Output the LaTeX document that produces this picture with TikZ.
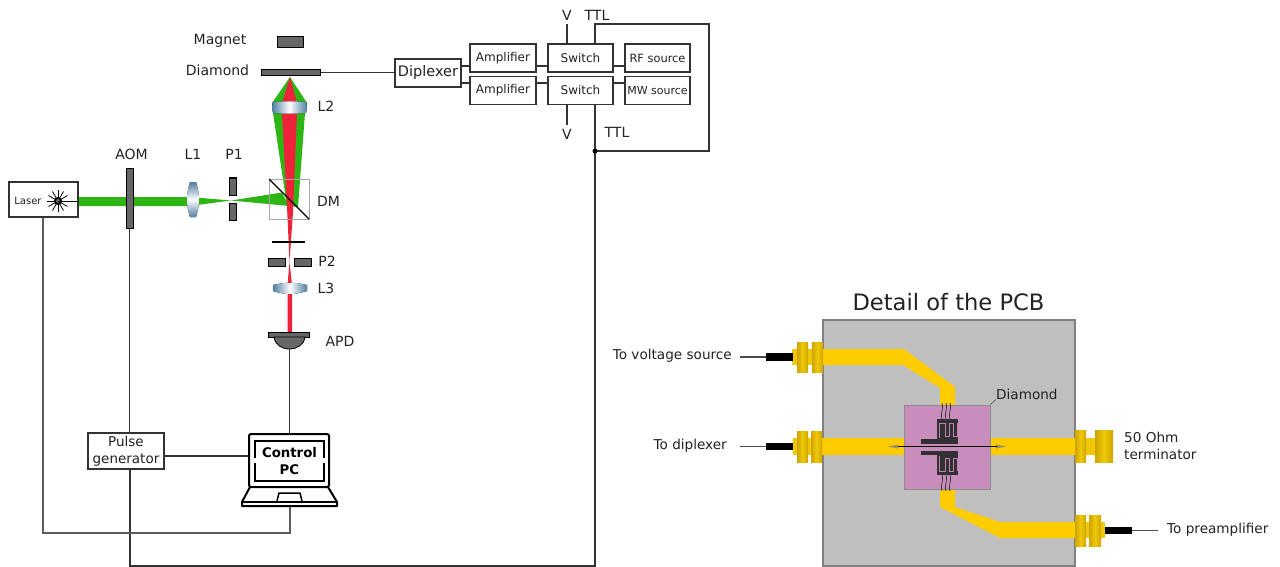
\documentclass[tikz,border=0pt]{standalone}
\usepackage{fontspec}
\setmainfont{DejaVu Sans}
\definecolor{grn}{HTML}{2DB514}
\definecolor{rd}{HTML}{EE2238}
\definecolor{wire}{HTML}{333333}
\definecolor{part}{HTML}{666666}
\definecolor{txt}{HTML}{222222}
\definecolor{trace}{HTML}{FFCC00}
\definecolor{brassd}{HTML}{CFA400}
\definecolor{brassl}{HTML}{F0C808}
\definecolor{lensb}{HTML}{4F7FA6}
\definecolor{dark}{HTML}{333033}
\definecolor{pinkd}{HTML}{C88DBB}
\definecolor{pinkw}{HTML}{BE82AF}
\tikzset{
  fs/.style={font=\fontsize{#1}{17}\selectfont},
  lbl/.style={fs=14,text=txt,inner sep=0pt},
  lab/.style={fs=13.6,text=txt,inner sep=0pt},
  box/.style={draw=wire,line width=1.2pt,fill=white,inner sep=0pt,text=txt,fs=12},
  conn/.style={draw=wire,line width=1.35pt},
  opt/.style={draw=black,line width=1pt,fill=part},
  brass/.style={left color=brassd,right color=brassd,middle color=brassl},
  lensv/.style={top color=lensb,bottom color=lensb,middle color=white},
  lensh/.style={left color=lensb,right color=lensb,middle color=white},
}
\begin{document}
\begin{tikzpicture}[x=1pt,y=-1pt]
\useasboundingbox (0,0) rectangle (1280,567);
% ---- beams
\fill[grn] (78,197) -- (190,197) -- (231,200.5) -- (282,192.5) -- (289,206) -- (231,200.5) -- (190,206) -- (78,206) -- cycle;
\fill[grn] (290,77) -- (272,103) -- (273,113) -- (287,206) -- (298,207) -- (305,113) -- (307,103) -- cycle;
\fill[rd] (290,77) -- (282,103) -- (282,113) -- (287,206) -- (289.5,262) -- (293,212) -- (297,113) -- (297,103) -- cycle;
\fill[rd] (289.5,262) -- (287.5,285) -- (287.5,294) -- (287.5,333) -- (292,333) -- (292,285) -- cycle;
% ---- optics
\node[opt,minimum width=26pt,minimum height=11pt,inner sep=0pt] (magnet) at (290,42.5) {};
\node[opt,minimum width=59pt,minimum height=6pt,inner sep=0pt] (dia) at (290.5,72.5) {};
\fill[lensh] (273,102) to[bend left=4] (306,102) -- (307,107.5) -- (306,113) to[bend left=4] (273,113) -- (272,107.5) -- cycle;
\draw[draw=gray!70,line width=0.9pt] (269,179) rectangle (309,219);
\draw[black,line width=1.3pt] (269,179) -- (309,219);
\fill[lensv] (190,182) -- (196,182) .. controls (200,195) and (200,205) .. (196,217) -- (190,217) .. controls (186,205) and (186,195) .. (190,182) -- cycle;
\fill[lensh] (273,285) .. controls (285,282) and (295,282) .. (307,285) -- (307,291) .. controls (295,295) and (285,295) .. (273,291) -- cycle;
\node[opt,minimum width=7pt,minimum height=59pt,inner sep=0pt] (aom) at (129.5,198.5) {};
\draw[opt] (229,178) rectangle (236,195);
\draw[opt] (229,203) rectangle (236,220);
\draw[black,line width=1.4pt] (272,242) -- (305,242);
\draw[opt] (268,258) rectangle (285,266);
\draw[opt] (294,258) rectangle (311,266);
\node[opt,minimum width=41pt,minimum height=5pt,inner sep=0pt] (apdp) at (288.5,334.5) {};
\path[draw=black,line width=0.8pt,fill=part] (274,337) .. controls (275,345) and (282,349) .. (289.5,349) .. controls (297,349) and (304,345) .. (305,337) -- cycle;
\coordinate (apd) at (289.5,349);
% ---- laser
\node[box,minimum width=69pt,minimum height=35pt] (laser) at (43.5,199.5) {};
\node[fs=10,text=txt,inner sep=0pt] (lasertxt) at (28,201) {Laser};
\foreach \a in {0,30,...,330}{\draw[black,line width=0.8pt] (58,201) -- ++(\a:11);}
\fill[black] (58,201) circle (4pt);
\fill[part] (58,201) circle (2pt);
\draw[black,line width=0.8pt] (58,201) -- (laser.east |- 58,201);
% ---- boxes
\node[box,fs=14.5,minimum width=66pt,minimum height=28pt] (dip) at (428,73) {Diplexer};
\node[box,minimum width=66pt,minimum height=28pt] (amp1) at (503,58) {\raisebox{-1pt}{Amplifier}};
\node[box,minimum width=66pt,minimum height=28pt] (amp2) at (503,90.5) {\raisebox{-1pt}{Amplifier}};
\node[box,minimum width=65pt,minimum height=28pt] (sw1) at (580.5,58) {Switch};
\node[box,minimum width=65pt,minimum height=28pt] (sw2) at (580.5,90.5) {Switch};
\node[box,fs=11.4,minimum width=65pt,minimum height=28pt] (rf) at (657.5,58) {RF source};
\node[box,fs=11,minimum width=65pt,minimum height=28pt] (mw) at (657.5,90.5) {\raisebox{-1pt}{MW source}};
\node[box,fs=13.5,minimum width=76pt,minimum height=36pt,align=center] (pg) at (126,451) {\raisebox{-1pt}{Pulse}\\\raisebox{-1pt}{generator}};
% ---- laptop
\node[inner sep=0pt,minimum width=80pt,minimum height=53pt,draw=black,line width=2pt,rounded corners=1.5pt] (pc) at (289,460.5) {};
\draw[black,line width=1.8pt] (255,458) -- (255,441) -- (324,441) -- (324,458) (255,463) -- (255,481) -- (324,481) -- (324,463);
\node[font=\fontsize{13.3}{17}\selectfont\bfseries,text=black,align=center,inner sep=0pt] (pctxt) at (289.5,461.5) {Control\\PC};
\draw[black,line width=2pt,line join=round,fill=white] (250,487) -- (328,487) -- (337,502) -- (337,506) -- (242,506) -- (242,502) -- cycle;
\draw[black,line width=1.5pt] (242,502) -- (337,502);
\draw[black,line width=1.5pt] (277,501) -- (279,493) -- (300,493) -- (302,501);
\coordinate (pcb) at (290,507);
% ---- wiring
\draw[conn] (dia.east) -- (dip.west |- dia.east);
\draw[conn] (dip.east |- 0,66) -- (amp1.west |- 0,66);
\draw[conn] (dip.east |- 0,83) -- (amp2.west |- 0,83);
\draw[conn] (amp1.east |- 0,66) -- (sw1.west |- 0,66);
\draw[conn] (amp2.east |- 0,83) -- (sw2.west |- 0,83);
\draw[conn] (sw1.east |- 0,66) -- (rf.west |- 0,66);
\draw[conn] (sw2.east |- 0,83) -- (mw.west |- 0,83);
\coordinate (vt) at (567,24);
\coordinate (vb) at (567,125);
\draw[conn] (vt) -- (vt |- sw1.north);
\draw[conn] (vb) -- (vb |- sw2.south);
\coordinate (junc) at (595,151);
\coordinate (pgr) at (130,566);
\draw[conn] (junc |- sw1.north) -- (595,24) -- (709,24) -- (709,151) -- (junc);
\draw[conn] (pg.south -| pgr) -- (pgr) -- (595,566) -- (junc) -- (sw2.south -| junc);
\fill[black] (junc) circle (2.5pt);
\draw[conn] (aom.south) -- (aom.south |- pg.north);
\draw[conn] (pg.east |- 0,456) -- (pc.west |- 0,456);
\draw[conn] (apd) -- (apd |- pc.north);
\draw[conn,draw=wire!80] (laser.south -| 43,0) -- (43,533) -- (290,533) -- (pcb);
% ---- labels left
\node[lbl] (t1) at (220,41) {Magnet};
\node[lbl] (t2) at (217.5,70.5) {Diamond};
\node[lbl] (t3) at (326,106) {L2};
\node[lbl] (t4) at (131.5,154) {AOM};
\node[lbl] (t5) at (193,154) {L1};
\node[lbl] (t6) at (234,154) {P1};
\node[lbl] (t7) at (328.5,201) {DM};
\node[lbl] (t8) at (327,261) {P2};
\node[lbl] (t9) at (326,288) {L3};
\node[lbl] (t10) at (340,341.5) {APD};
\node[lbl] (t11) at (567,15) {V};
\node[lbl] (t12) at (597,15) {TTL};
\node[lbl] (t13) at (567,134) {V};
\node[lbl] (t14) at (617,132) {TTL};
% ---- PCB
\node[fs=22.6,text=txt,inner sep=0pt] (title) at (948.5,302) {Detail of the PCB};
\node[draw=gray,line width=1.2pt,fill=black!25,minimum width=252pt,minimum height=246pt,inner sep=0pt] (board) at (949,443) {};
\fill[trace] (823,349) -- (904,349) -- (955,387) -- (955,405) -- (940,405) -- (940,388) -- (903,365) -- (823,365) -- cycle;
\fill[trace] (823,438) rectangle (905,455);
\fill[trace] (990,438) rectangle (1075,455);
\fill[trace] (940,489) -- (955,489) -- (955,507) -- (1000,522) -- (1075,522) -- (1075,538) -- (1000,538) -- (940,507) -- cycle;
\node[draw=black!45,line width=0.8pt,fill=pinkd,minimum width=86pt,minimum height=84pt,inner sep=0pt] (dm) at (947,447) {};
% tapers and line
\fill[gray!80!trace] (888,446.5) -- (898,444.5) -- (898,448.5) -- cycle;
\fill[gray!80!trace] (1006,446.5) -- (996,444.5) -- (996,448.5) -- cycle;
\draw[black,line width=1.1pt] (898,446.5) -- (997,446.5);
% electrodes
\fill[dark] (937,419) rectangle (958,438);
\fill[dark] (921,439) rectangle (958,443.5);
\fill[dark] (937,438) rectangle (958,440);
\fill[dark] (921,451) rectangle (958,455);
\fill[dark] (937,455) rectangle (958,475);
\draw[pinkw,line width=0.7pt]
  (939,438) -- (939,423) -- (945,423) -- (945,436) -- (949,436) -- (949,423) -- (953,423) -- (953,436) -- (957,436) -- (957,423);
\draw[pinkw,line width=0.7pt]
  (939,456) -- (939,471) -- (945,471) -- (945,458) -- (949,458) -- (949,471) -- (953,471) -- (953,458) -- (957,458) -- (957,471);
\foreach \x in {942,946,950}{
  \draw[dark,line width=0.7pt] (\x,403) .. controls (\x+2,410) and (\x-2,412) .. (\x,419);
  \draw[dark,line width=0.7pt] (\x,475) .. controls (\x+2,482) and (\x-2,484) .. (\x,491);
}
% connectors
\fill[brassl] (792,349) rectangle (823,365);
\fill[brass] (797,342) rectangle (808,372);
\fill[brass] (812,342) rectangle (823,372);
\fill[black] (766,353) rectangle (793,361);
\draw[gray!60!black,line width=1.3pt] (740,357) -- (766,357);
\fill[brassl] (793,438) rectangle (823,455);
\fill[brass] (797,431) rectangle (808,462);
\fill[brass] (811,431) rectangle (822,462);
\fill[black] (766,443) rectangle (793,450);
\draw[gray!60!black,line width=1.3pt] (740,446.5) -- (766,446.5);
\fill[brassl] (1075,438) rectangle (1096,455);
\fill[brass] (1075,430) rectangle (1086,462);
\fill[brass] (1095,430) rectangle (1113,462);
\fill[brassl] (1075,522) rectangle (1105,538);
\fill[brass] (1075,515) rectangle (1086,546);
\fill[brass] (1089,515) rectangle (1101,546);
\fill[black] (1105,527) rectangle (1132,534);
\draw[gray!60!black,line width=1.3pt] (1132,530.5) -- (1158,530.5);
% PCB labels
\node[lab,anchor=east] (r1) at (732,356) {To voltage source};
\node[lab,anchor=east] (r2) at (727,445.5) {To diplexer};
\node[lab,anchor=west] (r3) at (1167,530) {To preamplifier};
\node[lab,anchor=west,align=left] (r4) at (1124,446) {50 Ohm\\terminator};
\node[lab,anchor=west] (r5) at (996,394) {Diamond};
\draw[gray!60!black,line width=0.6pt] (dm.north east) -- (r5.south west);
\end{tikzpicture}
\end{document}
